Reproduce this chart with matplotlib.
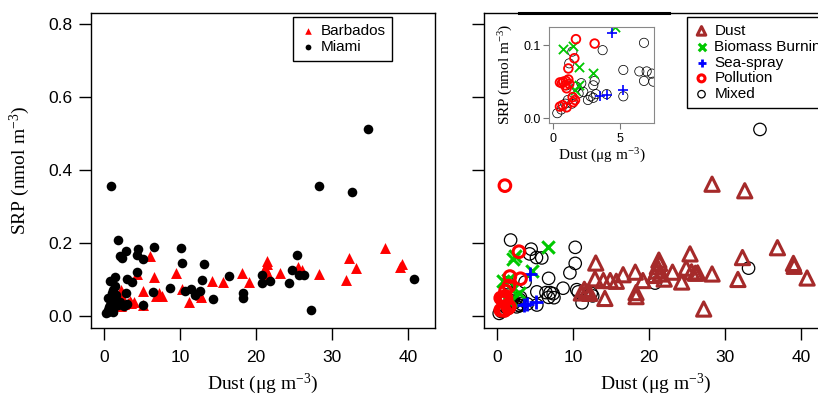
import numpy as np
import matplotlib.pyplot as plt
from matplotlib.lines import Line2D

plt.rcParams['font.family'] = ['Liberation Sans', 'DejaVu Sans']
plt.rcParams['mathtext.fontset'] = 'custom'
plt.rcParams['mathtext.rm'] = 'Liberation Serif'
plt.rcParams['mathtext.it'] = 'Liberation Serif:italic'

# ---- left panel: by site ----
barbados_x = [37.0, 32.3, 33.1, 31.8, 39.0, 39.2, 28.3, 25.5, 26.0, 23.2, 21.4, 21.5, 21.2, 21.6,
              19.1, 18.1, 15.6, 14.2, 12.7, 11.2, 10.3, 9.5, 6.6, 6.0, 5.1, 7.3, 6.9, 7.6, 4.3,
              4.0, 3.6, 2.7, 2.1, 1.85, 2.3, 1.2, 3.2, 5.1, 3.4, 2.2, 2.5, 1.5, 1.0, 12.8]
barbados_y = [0.185, 0.158, 0.132, 0.099, 0.135, 0.142, 0.115, 0.135, 0.126, 0.119, 0.151, 0.142,
              0.131, 0.115, 0.094, 0.119, 0.094, 0.096, 0.057, 0.038, 0.073, 0.119, 0.106, 0.163,
              0.069, 0.062, 0.055, 0.056, 0.115, 0.039, 0.035, 0.033, 0.062, 0.044, 0.027, 0.030,
              0.036, 0.030, 0.041, 0.070, 0.046, 0.050, 0.020, 0.051]

miami_x = [0.97, 34.7, 28.3, 32.6, 1.8, 2.1, 2.35, 2.9, 4.5, 4.4, 5.2, 6.6, 10.2, 10.3, 13.2, 16.5,
           12.9, 8.7, 6.4, 10.6, 11.5, 12.0, 12.6, 14.3, 18.3, 18.3, 20.8, 20.8, 21.9, 24.3, 24.8,
           25.4, 25.6, 26.3, 27.2, 40.8, 5.2, 4.4, 3.7, 3.1, 2.9, 3.0, 1.5, 0.8,
           0.3, 0.5, 0.9, 0.6, 1.2, 1.4, 1.05, 1.6, 1.85, 2.1, 1.0, 1.4, 0.6, 1.2, 0.8, 1.6, 2.6,
           1.3, 0.7]
miami_y = [0.357, 0.511, 0.357, 0.339, 0.208, 0.164, 0.160, 0.177, 0.183, 0.168, 0.157, 0.188,
           0.187, 0.144, 0.143, 0.110, 0.098, 0.076, 0.065, 0.067, 0.073, 0.058, 0.067, 0.046,
           0.064, 0.048, 0.111, 0.090, 0.097, 0.090, 0.126, 0.167, 0.112, 0.113, 0.016, 0.100,
           0.031, 0.120, 0.094, 0.101, 0.063, 0.032, 0.107, 0.096,
           0.008, 0.015, 0.020, 0.050, 0.071, 0.082, 0.062, 0.044, 0.030, 0.039, 0.037, 0.027,
           0.012, 0.010, 0.030, 0.058, 0.028, 0.045, 0.024]

# ---- right panel: by source type ----
dust_x = [28.3, 32.6, 36.9, 32.3, 31.7, 39.0, 39.1, 40.8, 28.3, 27.2, 25.4, 24.9, 25.6, 26.1, 26.4,
          24.3, 23.1, 21.3, 21.4, 21.1, 21.0, 21.5, 20.7, 22.0, 19.2, 18.2, 18.3, 18.3, 16.6, 15.7,
          14.2, 14.0, 13.0, 12.9, 11.5, 11.1, 11.8, 12.2, 14.9]
dust_y = [0.361, 0.343, 0.187, 0.160, 0.100, 0.144, 0.136, 0.104, 0.115, 0.019, 0.170, 0.131,
          0.121, 0.117, 0.118, 0.093, 0.120, 0.153, 0.144, 0.135, 0.123, 0.115, 0.111, 0.101,
          0.097, 0.120, 0.064, 0.053, 0.113, 0.095, 0.048, 0.097, 0.145, 0.102, 0.073, 0.063,
          0.066, 0.062, 0.097]

biomass_x = [6.7, 2.4, 2.1, 0.75, 1.45, 1.95, 2.95, 1.9, 1.6, 4.6]
biomass_y = [0.188, 0.164, 0.156, 0.095, 0.099, 0.070, 0.062, 0.045, 0.039, 0.124]

seaspray_x = [4.4, 3.5, 5.2, 4.0]
seaspray_y = [0.116, 0.031, 0.038, 0.032]

pollution_x = [1.05, 2.9, 1.7, 3.1, 1.58, 1.13, 0.5, 0.75, 0.95, 1.13, 0.88, 1.0, 1.45, 1.63, 1.5,
               0.5, 0.7, 1.0, 0.65, 1.2]
pollution_y = [0.357, 0.176, 0.108, 0.102, 0.082, 0.068, 0.049, 0.050, 0.051, 0.053, 0.045, 0.041,
               0.029, 0.025, 0.022, 0.016, 0.018, 0.015, 0.048, 0.047]

mixed_x = [34.6, 33.1, 20.8, 1.8, 4.5, 4.3, 5.2, 5.9, 10.3, 10.3, 9.6, 8.7, 10.5, 10.7, 11.2, 12.4,
           12.6, 6.8, 3.7, 1.43, 1.2, 5.25, 6.45, 7.0, 7.4, 6.8, 7.5, 3.1, 3.0, 2.1, 1.75, 2.25,
           2.8, 2.6, 3.0, 3.2, 4.0, 5.25, 1.1, 0.9, 1.4, 0.6, 0.3, 1.9, 1.0]
mixed_y = [0.511, 0.131, 0.090, 0.208, 0.183, 0.170, 0.160, 0.159, 0.188, 0.144, 0.118, 0.076,
           0.072, 0.066, 0.036, 0.062, 0.055, 0.103, 0.093, 0.091, 0.075, 0.066, 0.064, 0.064,
           0.061, 0.051, 0.050, 0.051, 0.045, 0.048, 0.043, 0.036, 0.030, 0.025, 0.028, 0.033,
           0.033, 0.030, 0.025, 0.020, 0.020, 0.012, 0.007, 0.034, 0.045]

xticks = [0, 10, 20, 30, 40]
yticks = [0.0, 0.2, 0.4, 0.6, 0.8]

serif = 'Liberation Serif'
xlabel = 'Dust (\u03bcg m$^{-3}$)'
ylabel = 'SRP (nmol m$^{-3}$)'

fig = plt.figure(figsize=(8.18, 3.96), dpi=100)
ax1 = fig.add_axes([91 / 818, 1 - 328 / 396, 344 / 818, 315 / 396])
ax2 = fig.add_axes([484 / 818, 1 - 328 / 396, 344 / 818, 315 / 396])

for ax in (ax1, ax2):
    ax.set_xlim(-1.7, 43.55)
    ax.set_ylim(-0.033, 0.83)
    ax.set_xticks(xticks)
    ax.set_yticks(yticks)
    ax.set_yticklabels(['%.1f' % v for v in yticks])
    ax.tick_params(direction='out', length=8.5, width=1, labelsize=12.5, pad=5)
    ax.tick_params(axis='x', pad=7)
    for sp_ in ax.spines.values():
        sp_.set_linewidth(1.0)
    ax.set_xlabel(xlabel, fontsize=14, family=serif)
    ax.xaxis.set_label_coords(0.5, -0.14)

ax2.set_yticklabels([])

# left panel
ax1.scatter(barbados_x, barbados_y, marker='^', s=62, color='red', linewidths=0, label='Barbados')
ax1.scatter(miami_x, miami_y, marker='o', s=48, color='black', linewidths=0, label='Miami')
ax1.set_ylabel(ylabel, fontsize=14, family=serif)
ax1.yaxis.set_label_coords(-0.172, 0.5)
ax1.legend(loc='upper left', bbox_to_anchor=(293 / 818, 1 - 17 / 396),
           bbox_transform=fig.transFigure, borderaxespad=0, fontsize=11, markerscale=0.6,
           handlelength=1.0, handletextpad=0.35, borderpad=0.45, labelspacing=0.12,
           fancybox=False, edgecolor='black', framealpha=1).get_frame().set_linewidth(1.0)

# right panel
brown = '#A52A2A'
green = '#00C800'


def draw_types(ax, big):
    k = 1.0 if big else 0.55
    lw = 1.0 if big else 0.6
    h = {}
    h['Mixed'] = ax.scatter(mixed_x, mixed_y, marker='o', s=80 * k, facecolors='none',
                            edgecolors='black', linewidths=0.9 * lw)
    h['Biomass Burning'] = ax.scatter(biomass_x, biomass_y, marker='x', s=80 * k, color=green,
                                      linewidths=2.2 * lw)
    h['Sea-spray'] = ax.scatter(seaspray_x, seaspray_y, marker='+', s=110 * k, color='blue',
                                linewidths=2.0 * lw)
    h['Pollution'] = ax.scatter(pollution_x, pollution_y, marker='o', s=70 * k, facecolors='none',
                                edgecolors='red', linewidths=2.2 * lw)
    h['Dust'] = ax.scatter(dust_x, dust_y, marker='^', s=105 * k, facecolors='none',
                           edgecolors=brown, linewidths=2.2 * lw)
    return h


handles = draw_types(ax2, True)
order = ['Dust', 'Biomass Burning', 'Sea-spray', 'Pollution', 'Mixed']
leg2 = ax2.legend([handles[n] for n in order], order, loc='upper left',
                  bbox_to_anchor=(687 / 818, 1 - 17 / 396), bbox_transform=fig.transFigure,
                  borderaxespad=0, fontsize=11, markerscale=0.6, handlelength=1.0,
                  handletextpad=0.35, borderpad=0.45, labelspacing=0.12, fancybox=False,
                  edgecolor='black', framealpha=1)
leg2.get_frame().set_linewidth(1.0)

# inset
ax3 = fig.add_axes([549 / 818, 1 - 123 / 396, 105 / 818, 96 / 396])
draw_types(ax3, False)
ax3.set_xlim(-0.32, 7.55)
ax3.set_ylim(-0.0064, 0.1246)
ax3.set_xticks([0, 5])
ax3.set_yticks([0.0, 0.1])
ax3.set_yticklabels(['0.0', '0.1'])
ax3.tick_params(direction='out', length=4, width=0.8, labelsize=9, colors='#777777',
                labelcolor='black', pad=1.5)
ax3.tick_params(axis='x', pad=3)
for sp_ in ax3.spines.values():
    sp_.set_color('#888888')
    sp_.set_linewidth(0.8)
ax3.set_xlabel(xlabel, fontsize=11, family=serif)
ax3.xaxis.set_label_coords(0.5, -0.25)
ax3.set_ylabel(ylabel, fontsize=11, family=serif)
ax3.yaxis.set_label_coords(-0.32, 0.51)

# heavy line segment on the top edge of the right panel
fig.add_artist(Line2D([519 / 818, 669 / 818], [1 - 13 / 396, 1 - 13 / 396],
                      transform=fig.transFigure, color='black', linewidth=2.2))

fig.savefig('out.png', dpi=100)
